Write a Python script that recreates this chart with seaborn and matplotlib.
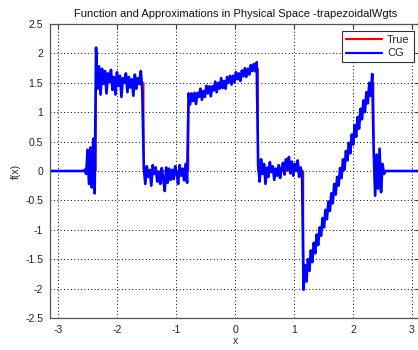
import numpy as np
import pandas as pd
import matplotlib
matplotlib.use("Agg")
import matplotlib.pyplot as plt
import seaborn as sns

# Exact (piecewise linear) function: vertices of the polyline
true_x = [-np.pi, -2.36, -2.36, -1.55, -1.55, -0.79, -0.79, 0.39, 0.39,
          1.16, 1.16, 2.35, 2.35, np.pi]
true_y = [0.0, 0.0, 1.5, 1.5, 0.0, 0.0, 1.2, 1.75, 0.0,
          0.0, -1.85, 1.5, 0.0, 0.0]

# CG approximation: sample values between successive jump locations
cg_breaks = [-2.60, -2.36, -1.55, -0.79, 0.39, 1.16, 2.35, 2.55]
cg_seg_a = [0.0, 0.0, 0.02, -0.05, 0.36, -0.22, 0.40, -0.28, 0.55, -0.38]
cg_seg_b = [2.10, 1.40, 1.78, 1.30, 1.74, 1.48, 1.70, 1.32, 1.66, 1.52,
            1.72, 1.38, 1.60, 1.30, 1.68, 1.45, 1.62, 1.26, 1.58, 1.50,
            1.66, 1.34, 1.60, 1.42, 1.56, 1.28, 1.64, 1.40, 1.58, 1.48,
            1.70, 1.36]
cg_seg_c = [0.05, -0.22, 0.08, -0.10, 0.02, -0.25, 0.10, -0.05, 0.06, -0.18,
            -0.02, -0.22, 0.05, -0.12, -0.34, 0.06, -0.20, 0.04, -0.15, 0.02,
            -0.14, 0.08, -0.04, -0.22, 0.10, -0.08, 0.04, -0.16, 0.12, -0.20]
cg_seg_d = [1.32, 1.13, 1.32, 1.19, 1.33, 1.14, 1.33, 1.26, 1.40, 1.21,
            1.36, 1.26, 1.45, 1.32, 1.44, 1.27, 1.44, 1.37, 1.52, 1.34,
            1.50, 1.40, 1.58, 1.41, 1.53, 1.40, 1.60, 1.50, 1.62, 1.47,
            1.62, 1.51, 1.68, 1.56, 1.66, 1.53, 1.71, 1.61, 1.75, 1.60,
            1.74, 1.64, 1.80, 1.70, 1.82, 1.70, 1.85]
cg_seg_e = [0.10, -0.18, 0.20, -0.05, 0.12, -0.22, 0.06, -0.10, 0.15, -0.02,
            0.08, -0.15, 0.04, -0.08, 0.10, -0.12, 0.05, 0.14, -0.06, 0.20,
            0.02, 0.24, -0.04, 0.16, -0.08, 0.12, 0.00, 0.18, -0.10, 0.06,
            -0.04]
cg_seg_f = [-2.02, -1.60, -1.88, -1.50, -1.70, -1.35, -1.55, -1.22, -1.40, -1.08,
            -1.26, -0.96, -1.10, -0.80, -0.96, -0.66, -0.82, -0.52, -0.68, -0.38,
            -0.55, -0.22, -0.40, -0.10, -0.25, 0.05, -0.12, 0.20, 0.02, 0.34,
            0.18, 0.48, 0.30, 0.62, 0.45, 0.78, 0.58, 0.92, 0.72, 1.06,
            0.88, 1.20, 1.00, 1.34, 1.15, 1.50, 1.28, 1.65]
cg_seg_g = [0.35, -0.42, 0.28, -0.30, 0.38, -0.36, 0.12, -0.05]
cg_segments = [cg_seg_a, cg_seg_b, cg_seg_c, cg_seg_d, cg_seg_e, cg_seg_f, cg_seg_g]

cg_x = [-np.pi]
cg_y = [0.0]
for lo, hi, vals in zip(cg_breaks[:-1], cg_breaks[1:], cg_segments):
    cg_x.extend(np.linspace(lo, hi, len(vals), endpoint=False))
    cg_y.extend(vals)
cg_x += [cg_breaks[-1], np.pi]
cg_y += [0.0, 0.0]

x_ticks = [-3, -2, -1, 0, 1, 2, 3]
y_ticks = [-2.5, -2, -1.5, -1, -0.5, 0, 0.5, 1, 1.5, 2, 2.5]
y_ticklabels = ["-2.5", "-2", "-1.5", "-1", "-0.5", "0", "0.5", "1", "1.5", "2", "2.5"]

sns.set_style("white")
plt.rcParams["font.family"] = ["Liberation Sans", "DejaVu Sans"]

fig = plt.figure(figsize=(4.18, 3.5), dpi=100)
ax = fig.add_axes([0.1196, 0.0914, 0.886, 0.84])

df_true = pd.DataFrame({"x": true_x, "y": true_y})
df_cg = pd.DataFrame({"x": cg_x, "y": cg_y})
sns.lineplot(data=df_true, x="x", y="y", sort=False, estimator=None,
             color="#ee0000", linewidth=1.0, label="True", ax=ax)
sns.lineplot(data=df_cg, x="x", y="y", sort=False, estimator=None,
             color="#0000ff", linewidth=1.9, label="CG", ax=ax)

ax.set_xlim(-np.pi, np.pi)
ax.set_ylim(-2.5, 2.5)
ax.set_xticks(x_ticks)
ax.set_xticklabels([str(t) for t in x_ticks])
ax.set_yticks(y_ticks)
ax.set_yticklabels(y_ticklabels)
ax.grid(True, color="black", linestyle=(0, (1, 2.5)), linewidth=0.7)
ax.tick_params(direction="in", length=3.5, width=0.8, labelsize=7.5,
               top=True, right=True, colors="#333333", labelcolor="#222222", pad=5)
for s in ax.spines.values():
    s.set_color("#555555")
    s.set_linewidth(0.9)

ax.set_title("Function and Approximations in Physical Space -trapezoidalWgts",
             fontsize=8, pad=5, color="#111111")
ax.set_xlabel("x", fontsize=7.5, labelpad=1)
ax.set_ylabel("f(x)", fontsize=7.5, labelpad=3)

leg = ax.legend(loc="upper right", fontsize=8, handlelength=3.2,
                borderaxespad=0.6, fancybox=False, framealpha=1,
                edgecolor="#333333", labelspacing=0.35, handletextpad=0.5,
                borderpad=0.35)
leg.get_frame().set_linewidth(0.8)
for line in leg.get_lines():
    line.set_linewidth(1.6)

fig.savefig("out.png", dpi=100)
